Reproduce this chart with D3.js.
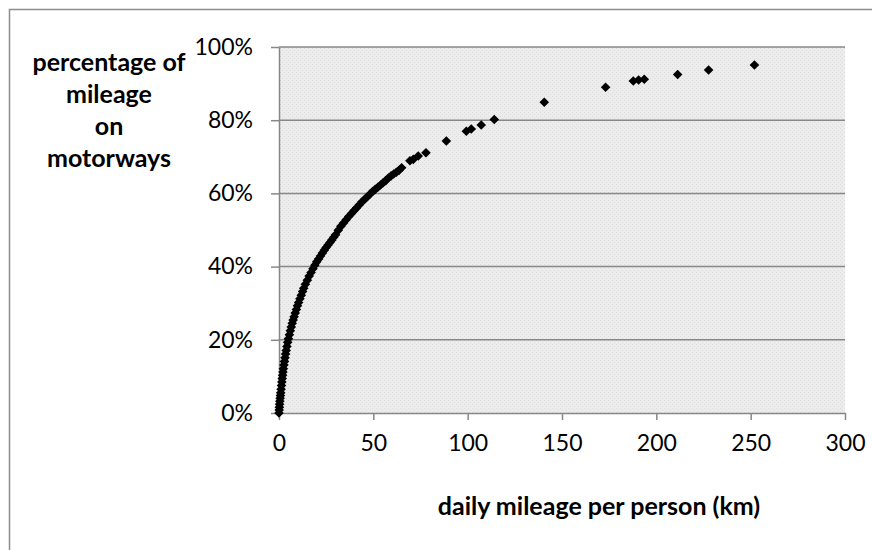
<!DOCTYPE html>
<html>
<head>
<meta charset="utf-8">
<script src="https://cdn.jsdelivr.net/npm/d3@7"></script>
<style>
  body { margin: 0; background: #fff; }
  svg text { font-family: Lato, "Open Sans", sans-serif; fill: #000; }
  .axis path, .axis line { stroke: #878787; stroke-width: 1.5; }
  .axis text { font-size: 23px; }
  .grid line { stroke: #878787; stroke-width: 1.5; }
  .title { font-size: 25px; font-weight: bold; }
</style>
</head>
<body>
<div id="chart"></div>
<script>
const width = 872;
const height = 550;

// daily mileage per person (km) and share of that mileage on motorways
const dailyKm = [
  0, 0.1, 0.2, 0.3, 0.45, 0.6, 0.75, 0.9, 1.1, 1.3, 1.5, 1.7, 1.9, 2.1, 2.3, 2.6, 2.9, 3.2, 3.5, 3.8,
  4.2, 4.6, 5.0, 5.5, 6.0, 6.5, 7.0, 7.5, 8.0, 8.6, 9.2, 9.8, 10.4, 11.1, 11.8, 12.5, 13.1, 14.0, 15.0, 16.0,
  17.0, 18.0, 19.0, 20.0, 21.0, 22.0, 23.0, 24.0, 25.0, 26.0, 27.0, 28.0, 29.0, 30.0, 31.4, 32.8, 34.2, 35.6, 37.0, 38.4,
  39.8, 41.2, 42.6, 44.0, 45.4, 46.8, 48.2, 49.6, 51.0, 52.4, 53.8, 55.2, 56.6, 58.0, 59.4, 60.8, 62.2, 63.6,
  65.0, 69.4, 71.2, 73.8, 77.9, 88.7, 99.3, 101.9, 107.2, 114.1, 140.6, 173.1, 187.8, 190.6, 193.6, 211.3, 227.7, 252.0
];
const motorwayShare = [
  0, 0.8, 1.6, 2.4, 3.2, 4.0, 4.8, 5.5, 6.5, 7.5, 8.5, 9.4, 10.3, 11.2, 12.1, 13.1, 14.1, 15.1, 16.1, 17.1,
  18.2, 19.3, 20.3, 21.4, 22.5, 23.5, 24.5, 25.4, 26.3, 27.3, 28.3, 29.3, 30.2, 31.2, 32.2, 33.2, 34.1, 35.2, 36.3, 37.4,
  38.4, 39.4, 40.4, 41.3, 42.1, 42.9, 43.7, 44.5, 45.2, 45.9, 46.6, 47.3, 48.0, 48.7, 49.9, 51.0, 51.9, 52.8, 53.7, 54.5,
  55.3, 56.1, 56.9, 57.7, 58.4, 59.1, 59.8, 60.5, 61.1, 61.7, 62.3, 62.9, 63.5, 64.2, 64.8, 65.3, 65.8, 66.3,
  67.0, 68.9, 69.3, 70.2, 71.1, 74.3, 77.0, 77.6, 78.7, 80.2, 84.9, 89.0, 90.7, 91.0, 91.2, 92.5, 93.7, 95.1
];

const xTicks = [0, 50, 100, 150, 200, 250, 300];
const yTicks = [0, 0.2, 0.4, 0.6, 0.8, 1.0];

const yTitleLines = ["percentage of", "mileage", "on", "motorways"];
const xTitle = "daily mileage per person (km)";

const plot = { left: 279, right: 845, top: 47, bottom: 413 };

const svg = d3.select("#chart")
  .append("svg")
  .attr("width", width)
  .attr("height", height);

// outer chart border
svg.append("rect")
  .attr("x", 9.5)
  .attr("y", 9.5)
  .attr("width", 880)
  .attr("height", 600)
  .attr("fill", "#fff")
  .attr("stroke", "#8c8c8c")
  .attr("stroke-width", 1.5);

// dotted plot background (Excel style pattern)
const pattern = svg.append("defs").append("pattern")
  .attr("id", "dots")
  .attr("width", 4)
  .attr("height", 4)
  .attr("patternUnits", "userSpaceOnUse");
pattern.append("rect").attr("width", 4).attr("height", 4).attr("fill", "#ececec");
pattern.append("rect").attr("x", 0).attr("y", 0).attr("width", 1).attr("height", 1).attr("fill", "#dddddd");
pattern.append("rect").attr("x", 2).attr("y", 2).attr("width", 1).attr("height", 1).attr("fill", "#dddddd");

const x = d3.scaleLinear().domain([0, 300]).range([plot.left, plot.right]);
const y = d3.scaleLinear().domain([0, 1]).range([plot.bottom, plot.top]);

svg.append("rect")
  .attr("x", plot.left)
  .attr("y", plot.top)
  .attr("width", plot.right - plot.left)
  .attr("height", plot.bottom - plot.top)
  .attr("fill", "url(#dots)");

// horizontal gridlines
svg.append("g")
  .attr("class", "grid")
  .selectAll("line")
  .data(yTicks.filter(d => d > 0))
  .enter().append("line")
  .attr("x1", plot.left)
  .attr("x2", plot.right)
  .attr("y1", d => y(d))
  .attr("y2", d => y(d));

// axes
svg.append("g")
  .attr("class", "axis")
  .attr("transform", `translate(0,${plot.bottom})`)
  .call(d3.axisBottom(x).tickValues(xTicks).tickSize(7).tickSizeOuter(0).tickPadding(15))
  .call(g => g.selectAll("text").attr("dy", "0.71em"));

svg.append("g")
  .attr("class", "axis")
  .attr("transform", `translate(${plot.left},0)`)
  .call(d3.axisLeft(y).tickValues(yTicks).tickFormat(d3.format(".0%")).tickSize(8).tickSizeOuter(0).tickPadding(18));

// points
const diamond = d3.symbol(d3.symbolSquare, 46);
svg.append("g")
  .selectAll("path")
  .data(dailyKm.map((d, i) => [d, motorwayShare[i] / 100]))
  .enter().append("path")
  .attr("d", diamond)
  .attr("transform", d => `translate(${x(d[0])},${y(d[1])}) rotate(45)`)
  .attr("fill", "#000");

// titles
svg.append("text")
  .attr("class", "title")
  .attr("text-anchor", "middle")
  .selectAll("tspan")
  .data(yTitleLines)
  .enter().append("tspan")
  .attr("x", 109)
  .attr("y", (d, i) => 71 + i * 32)
  .text(d => d);

svg.append("text")
  .attr("class", "title")
  .attr("x", 599)
  .attr("y", 515)
  .attr("text-anchor", "middle")
  .text(xTitle);
</script>
</body>
</html>
